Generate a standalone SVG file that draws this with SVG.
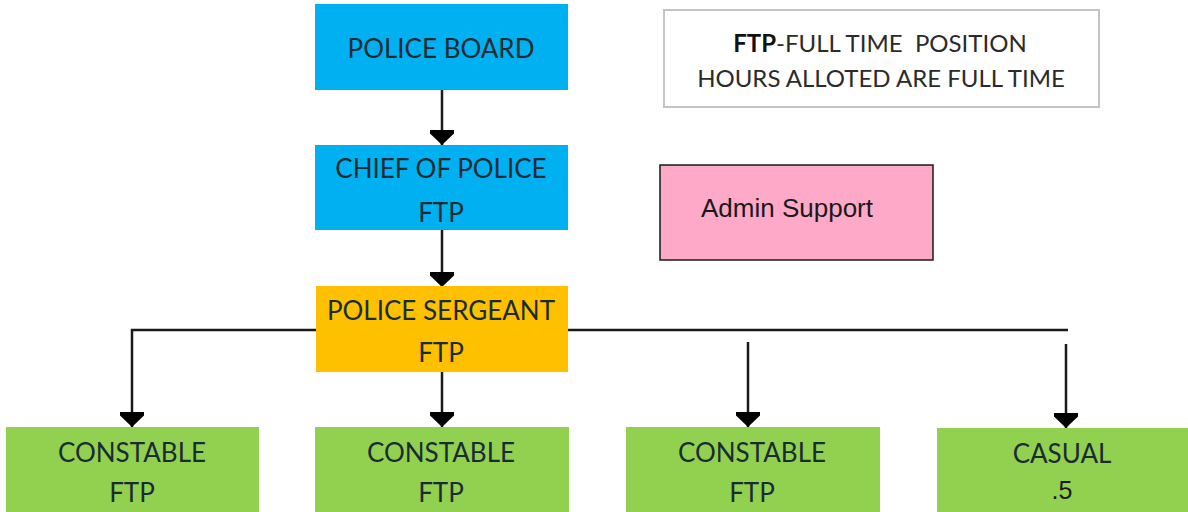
<svg xmlns="http://www.w3.org/2000/svg" width="1188" height="512" viewBox="0 0 1188 512">
  <style>
    .box { stroke: none; }
    .blue { fill: #00B0F0; }
    .orange { fill: #FFC000; }
    .green { fill: #92D050; }
    .lbl { font-family: Lato, "Liberation Sans", sans-serif; font-size: 26px; fill: #1a2c33; text-anchor: middle; }
    .arial { font-family: "Liberation Sans", Arial, sans-serif; fill: #1a1a1a; }
    .legend { font-family: Lato, "Liberation Sans", sans-serif; font-size: 24px; fill: #2b2b2b; text-anchor: middle; white-space: pre; }
    .wire { fill: none; stroke: #1a1a1a; stroke-width: 2.5; }
  </style>
  <defs>
    <marker id="head" viewBox="-16 -13 17 26" markerWidth="17" markerHeight="26" refX="0" refY="0" orient="auto" markerUnits="userSpaceOnUse">
      <path d="M0,0 L-11.5,-12 L-15,-12 L-15,12 L-11.5,12 Z" fill="#000"/>
    </marker>
  </defs>

  <rect width="1188" height="512" fill="#ffffff"/>

  <!-- connectors -->
  <g id="connectors">
    <line class="wire" x1="442" y1="90" x2="442" y2="145" marker-end="url(#head)"/>
    <line class="wire" x1="442" y1="230" x2="442" y2="287" marker-end="url(#head)"/>
    <polyline class="wire" points="316,330 132,330 132,427" marker-end="url(#head)"/>
    <line class="wire" x1="568" y1="330" x2="1068" y2="330"/>
    <line class="wire" x1="442" y1="372" x2="442" y2="427" marker-end="url(#head)"/>
    <line class="wire" x1="748" y1="342" x2="748" y2="427" marker-end="url(#head)"/>
    <line class="wire" x1="1066" y1="344" x2="1066" y2="428" marker-end="url(#head)"/>
  </g>

  <!-- legend -->
  <g id="legend">
    <rect x="664" y="10" width="435" height="97" fill="#ffffff" stroke="#c4c4c4" stroke-width="2"/>
    <text class="legend" x="880" y="52"><tspan font-weight="bold" fill="#111">FTP</tspan>-FULL TIME  POSITION</text>
    <text class="legend" x="881" y="87">HOURS ALLOTED ARE FULL TIME</text>
  </g>

  <g id="police-board">
    <rect class="box blue" x="315" y="4" width="253" height="86"/>
    <text class="lbl" x="441" y="58">POLICE BOARD</text>
  </g>

  <g id="chief-of-police">
    <rect class="box blue" x="315" y="145" width="253" height="85"/>
    <text class="lbl" x="441" y="178">CHIEF OF POLICE</text>
    <text class="lbl" x="441" y="222">FTP</text>
  </g>

  <g id="admin-support">
    <rect x="660" y="165" width="273" height="95" fill="#FFA9C8" stroke="#1a1a1a" stroke-width="1.5"/>
    <text class="arial" x="701" y="217" font-size="26">Admin Support</text>
  </g>

  <g id="police-sergeant">
    <rect class="box orange" x="316" y="286" width="252" height="86"/>
    <text class="lbl" x="441" y="320">POLICE SERGEANT</text>
    <text class="lbl" x="441" y="362">FTP</text>
  </g>

  <g id="constable-1">
    <rect class="box green" x="6" y="427" width="253" height="90"/>
    <text class="lbl" x="132" y="462">CONSTABLE</text>
    <text class="lbl" x="132" y="502">FTP</text>
  </g>

  <g id="constable-2">
    <rect class="box green" x="315" y="427" width="254" height="90"/>
    <text class="lbl" x="441" y="462">CONSTABLE</text>
    <text class="lbl" x="441" y="502">FTP</text>
  </g>

  <g id="constable-3">
    <rect class="box green" x="626" y="427" width="254" height="90"/>
    <text class="lbl" x="752" y="462">CONSTABLE</text>
    <text class="lbl" x="752" y="502">FTP</text>
  </g>

  <g id="casual">
    <rect class="box green" x="937" y="428" width="260" height="90"/>
    <text class="lbl" x="1062" y="463">CASUAL</text>
    <text class="arial" x="1062" y="499" font-size="25" text-anchor="middle">.5</text>
  </g>
</svg>
